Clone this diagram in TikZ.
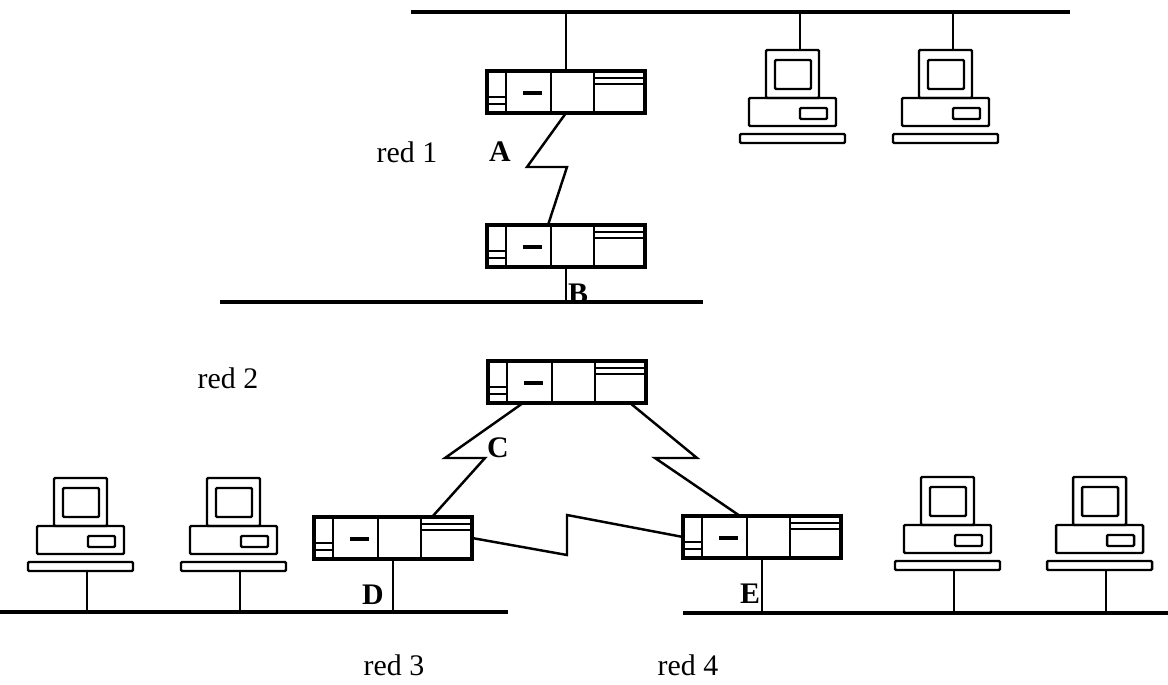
\documentclass[tikz,border=0pt]{standalone}
\usepackage{fontspec}
\setmainfont{Liberation Serif}
\usepackage{tikz}
\usetikzlibrary{calc}

\tikzset{
  % one unit = one pixel of the sheet, y pointing down
  lan/.style={line width=2.8pt},
  wire/.style={line width=1.4pt},
  netname/.style={font=\fontsize{17pt}{20pt}\selectfont},
  hop/.style={font=\fontsize{17pt}{20pt}\selectfont\bfseries, inner sep=0pt},
  router/.style={draw, line width=1.9pt, minimum width=3.16cm,
    minimum height=0.84cm, inner sep=0pt, outer sep=0pt},
  computer/.pic={
    \begin{scope}[line width=1.4pt, rounded corners=0.6pt]
      \draw (-26,0) rectangle (27,48);   % monitor
      \draw (-17,10) rectangle (19,39);  % screen
      \draw (-43,48) rectangle (44,76);  % case
      \draw (8,58) rectangle (35,69);    % drive
      \draw (-52,84) rectangle (53,93);  % keyboard
    \end{scope}
    \coordinate (-top) at (8,0);
    \coordinate (-foot) at (7,93);
  }
}

\begin{document}
\begin{tikzpicture}[x=0.02cm, y=-0.02cm]
  \useasboundingbox (0,0) rectangle (1168,685);

  % Bus lines
  \coordinate (lan1w) at (411,12);   \coordinate (lan1e) at (1070,12);
  \coordinate (lan2w) at (220,302);  \coordinate (lan2e) at (703,302);
  \coordinate (lan3w) at (0,612);    \coordinate (lan3e) at (508,612);
  \coordinate (lan4w) at (683,613);  \coordinate (lan4e) at (1168,613);
  \foreach \n in {1,2,3,4}
    \draw[lan] (lan\n w) -- (lan\n e);

  % Routers
  \node[router] (rA) at (566,92)  {};
  \node[router] (rB) at (566,246) {};
  \node[router] (rC) at (567,382) {};
  \node[router] (rD) at (393,538) {};
  \node[router] (rE) at (762,537) {};

  % Router front panels
  \foreach \r in {rA,rB,rC,rD,rE} {
    \begin{scope}[shift={(\r.north west)}, line width=1.5pt]
      \draw (19,0) -- (19,42) (64,0) -- (64,42) (107,0) -- (107,42);
      \draw (0,26) -- (19,26) (0,33) -- (19,33);
      \draw[line width=1.8pt] (36,22) -- (55,22);
      \draw (107,7) -- (158,7) (107,13) -- (158,13);
    \end{scope}
  }

  % Hosts
  \pic (pcA) at (792,50)  {computer};
  \pic (pcB) at (945,50)  {computer};
  \pic (pcC) at (80,478)  {computer};
  \pic (pcD) at (233,478) {computer};
  \pic (pcE) at (947,477) {computer};
  \pic (pcF) at (1099,477) {computer};

  % Drops to the buses
  \foreach \pc in {pcA,pcB}
    \draw[wire] (\pc-top) -- (\pc-top |- lan1w);
  \foreach \pc in {pcC,pcD}
    \draw[wire] (\pc-foot) -- (\pc-foot |- lan3w);
  \foreach \pc in {pcE,pcF}
    \draw[wire] (\pc-foot) -- (\pc-foot |- lan4w);
  \draw[wire] (rA.north) -- (rA.north |- lan1w);
  \draw[wire] (rB.south) -- (rB.south |- lan2w);
  \draw[wire] ($(rC.north)+(20,0)$) -- ($(rC.north)+(20,0)$ |- lan2w);
  \draw[wire] (rD.south) -- (rD.south |- lan3w);
  \draw[wire] (rE.south) -- (rE.south |- lan4w);

  % Serial links (zig-zag)
  \draw[wire] (rA.south) -- (527,167) -- (567,167) -- ($(rB.north)+(-18,0)$);
  \draw[wire] ($(rC.south)+(-44,0)$) -- (445,458) -- (485,458)
    -- ($(rD.north)+(39,0)$);
  \draw[wire] ($(rC.south)+(63,0)$) -- (697,458) -- (655,458)
    -- ($(rE.north)+(-22,0)$);
  \draw[wire] (rD.east) -- (567,555) -- (567,515) -- (rE.west);

  % Network names
  \node[netname] (red1) at (407,152) {red 1};
  \node[netname] (red2) at (228,378) {red 2};
  \node[netname] (red3) at (394,665) {red 3};
  \node[netname] (red4) at (688,665) {red 4};

  % Link / interface letters
  \node[hop] (hA) at (500,152) {A};
  \node[hop] (hB) at (578,294) {B};
  \node[hop] (hC) at (498,448) {C};
  \node[hop] (hD) at (373,595) {D};
  \node[hop] (hE) at (750,594) {E};
\end{tikzpicture}
\end{document}
